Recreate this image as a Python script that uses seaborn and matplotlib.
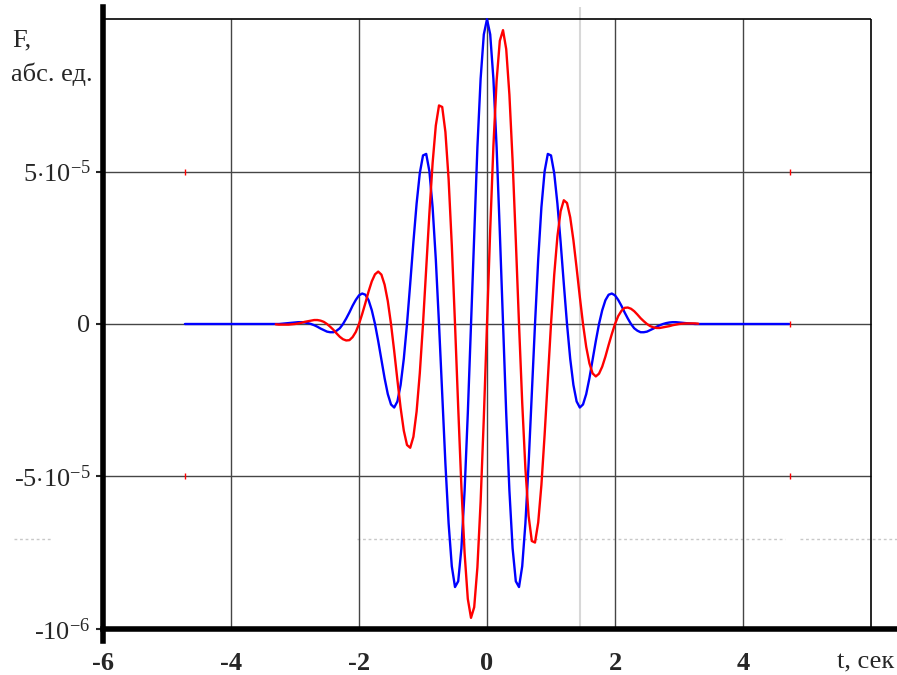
import numpy as np
import seaborn as sns
import matplotlib.pyplot as plt

# time grid of the read-off points, step 0.05 s
t = np.round(np.arange(-3.3, 3.3001, 0.05), 2)

# blue curve, F in units of 1e-5
blue_F = [
    0.00, 0.00, 0.01, 0.02, 0.03, 0.04, 0.05, 0.06, 0.06, 0.05, 0.03, 0.00,
    -0.04, -0.09, -0.15, -0.20, -0.25, -0.27, -0.27, -0.22, -0.14, 0.00,
    0.18, 0.38, 0.60, 0.79, 0.94, 1.00, 0.96, 0.78, 0.45, 0.00,
    -0.56, -1.17, -1.78, -2.30, -2.64, -2.74, -2.54, -2.00, -1.14, 0.00,
    1.32, 2.69, 3.95, 4.95, 5.53, 5.58, 5.01, 3.83, 2.12, 0.00,
    -2.31, -4.58, -6.54, -7.95, -8.63, -8.44, -7.36, -5.47, -2.93, 0.00,
    3.02, 5.80, 8.04, 9.50,
    10.00,
    9.50, 8.04, 5.80, 3.02, 0.00, -2.93, -5.47, -7.36, -8.44,
    -8.63, -7.95, -6.54, -4.58, -2.31, 0.00, 2.12, 3.83, 5.01, 5.58,
    5.53, 4.95, 3.95, 2.69, 1.32, 0.00, -1.14, -2.00, -2.54, -2.74,
    -2.64, -2.30, -1.78, -1.17, -0.56, 0.00, 0.45, 0.78, 0.96, 1.00,
    0.94, 0.79, 0.60, 0.38, 0.18, 0.00, -0.14, -0.22, -0.27, -0.27,
    -0.25, -0.20, -0.15, -0.09, -0.04, 0.00, 0.03, 0.05, 0.06, 0.06,
    0.05, 0.04, 0.03, 0.02, 0.01, 0.00, 0.00,
]

# red curve, F in units of 1e-5
red_F = [
    -0.01, -0.02, -0.02, -0.02, -0.02, -0.01, 0.00, 0.02, 0.04, 0.07, 0.09,
    0.11, 0.13, 0.13, 0.11, 0.07, 0.00, -0.09, -0.19, -0.31, -0.42, -0.50,
    -0.54, -0.53, -0.43, -0.26, 0.00, 0.33, 0.69, 1.07, 1.40, 1.63, 1.72,
    1.62, 1.29, 0.75, 0.00, -0.89, -1.84, -2.75, -3.50, -3.97, -4.06, -3.70,
    -2.87, -1.61, 0.00, 1.81, 3.64, 5.28, 6.51, 7.17, 7.12, 6.30, 4.75, 2.58,
    0.00, -2.74, -5.35, -7.52, -9.02, -9.64, -9.29, -7.98, -5.84, -3.09,
    0.00,
    3.09, 5.84, 7.98, 9.29, 9.64, 9.02, 7.52, 5.35, 2.74,
    0.00, -2.58, -4.75, -6.30, -7.12, -7.17, -6.51, -5.28, -3.64, -1.81,
    0.00, 1.61, 2.87, 3.70, 4.06, 3.97, 3.50, 2.75, 1.84, 0.89,
    0.00, -0.75, -1.29, -1.62, -1.72, -1.63, -1.40, -1.07, -0.69, -0.33,
    0.00, 0.26, 0.43, 0.53, 0.54, 0.50, 0.42, 0.31, 0.19, 0.09,
    0.00, -0.07, -0.11, -0.13, -0.13, -0.11, -0.09, -0.07, -0.04, -0.02,
    0.00, 0.01, 0.02, 0.02, 0.02, 0.02, 0.01,
]

# blue line runs flat out to these ends
blue_ends_t = [-4.72, 4.72]

x_ticks = [-6, -4, -2, 0, 2, 4]
y_ticks = [-10, -5, 0, 5]
y_labels = [r'-10$^{-6}$', r'-5$\cdot$10$^{-5}$', '0', r'5$\cdot$10$^{-5}$']

sns.set_style('white')
plt.rcParams['font.family'] = ['Liberation Serif', 'DejaVu Serif']
plt.rcParams['mathtext.fontset'] = 'custom'
plt.rcParams['mathtext.rm'] = 'Liberation Serif'
plt.rcParams['mathtext.it'] = 'Liberation Serif:italic'
plt.rcParams['mathtext.bf'] = 'Liberation Serif:bold'
plt.rcParams['axes.unicode_minus'] = False

fig = plt.figure(figsize=(8.97, 6.75), dpi=100)
ax = fig.add_axes([103 / 897, 34 / 675, 794 / 897, 634 / 675])
ax.set_xlim(-6, 6.406)
ax.set_ylim(-10.4, 10.4)

# grid (stops at t = 6)
grid_c = '#454545'
ax.hlines([-5, 0, 5], -6, 6, color=grid_c, lw=1, zorder=1)
ax.vlines([-4, -2, 0, 2, 4], -10, 10, color=grid_c, lw=1, zorder=1)
ax.vlines([6], -10, 10, color='black', lw=1.2, zorder=1)
ax.hlines([10], -6, 6, color='black', lw=1.2, zorder=1)

# trace leftovers: light gray cursor lines
ax.vlines([1.45], -10, 10.4, color='#d8d8d8', lw=1.5, zorder=0.5)
ax.hlines([-7.05, -7.05, -7.05], [-7.39, -2.03, 4.89], [-6.8, 4.66, 6.41],
          color='#c8c8c8', lw=1, linestyles=(0, (2, 2)), zorder=0.5,
          clip_on=False)

t_blue = np.concatenate([[blue_ends_t[0]], t, [blue_ends_t[1]]])
F_blue = np.concatenate([[0.0], blue_F, [0.0]])
sns.lineplot(x=t_blue, y=F_blue, color='#0000ff', lw=1.7, ax=ax,
             sort=False, estimator=None, zorder=3)
sns.lineplot(x=t, y=red_F, color='#ff0000', lw=1.7, ax=ax,
             sort=False, estimator=None, zorder=4)

# small red marks
ax.plot([4.73, 4.73, 4.73, -4.72, -4.72], [0, 5, -5, 5, -5], ls='none',
        marker='|', ms=4, color='#ff0000', mew=1, zorder=5)

for s in ['top', 'right']:
    ax.spines[s].set_visible(False)
ax.spines['left'].set_linewidth(4)
ax.spines['left'].set_color('black')
ax.spines['bottom'].set_linewidth(4)
ax.spines['bottom'].set_color('black')
ax.spines['bottom'].set_position(('data', -10))

ax.set_xticks(x_ticks)
ax.set_xticklabels([str(v) for v in x_ticks], fontweight='bold', fontsize=19)
ax.set_yticks(y_ticks)
ax.set_yticklabels(y_labels, fontsize=19)
ax.tick_params(axis='x', length=0, pad=17)
ax.tick_params(axis='y', length=5, width=1.5, pad=4, left=True)
ax.set_xlabel('')
ax.set_ylabel('')

fig.text(0.997, 1 - 662 / 675, 't, сек', ha='right', va='center', fontsize=19)
fig.text(12 / 897, 1 - 40 / 675, 'F,', ha='left', va='center', fontsize=19)
fig.text(11 / 897, 1 - 74 / 675, 'абс. ед.', ha='left', va='center', fontsize=19)

fig.savefig('out.png', dpi=100)
